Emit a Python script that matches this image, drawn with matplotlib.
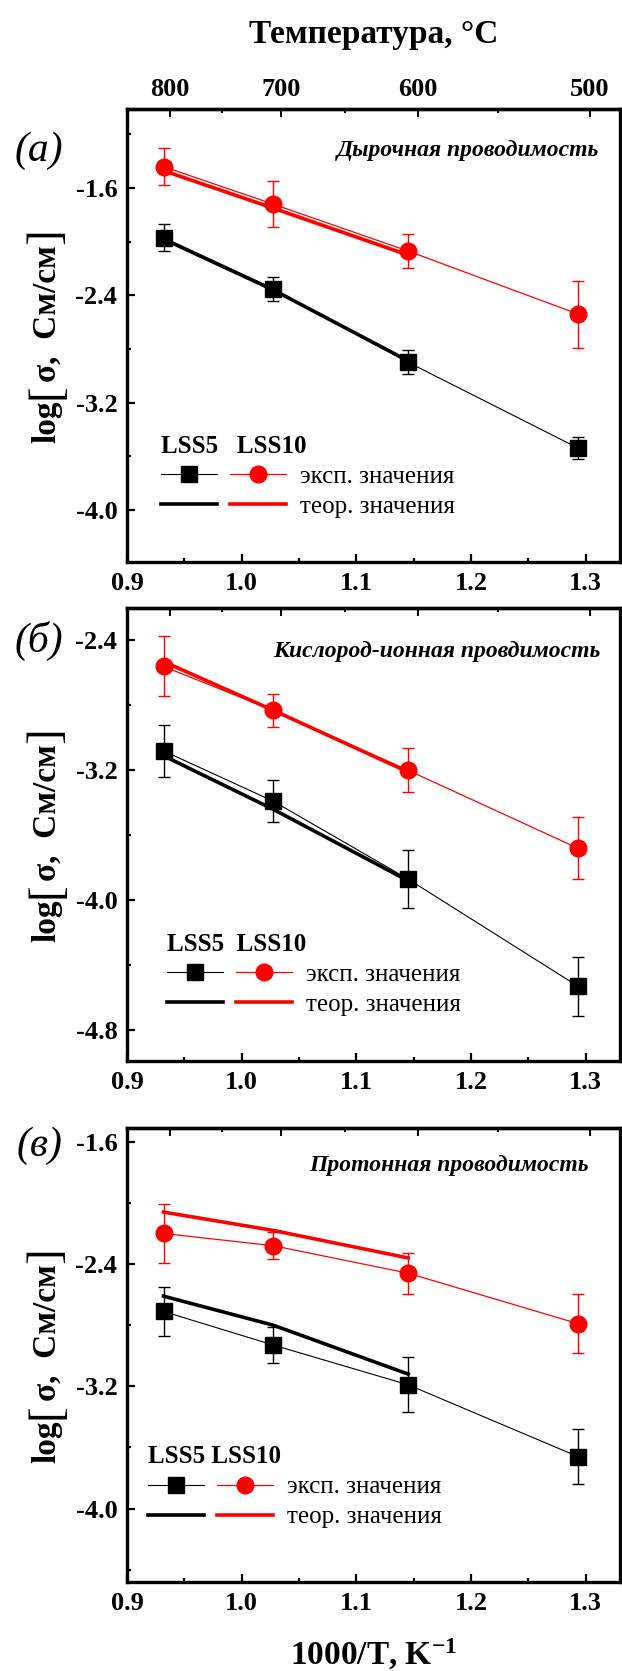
# arrhenius_panels.py
# Three stacked Arrhenius plots (hole / oxygen-ion / proton conductivity) for LSS5 and LSS10.

import numpy as np
import matplotlib
matplotlib.use('Agg')
import matplotlib.pyplot as plt
from matplotlib.legend_handler import HandlerTuple
from matplotlib.ticker import MultipleLocator, FormatStrFormatter

# --- Data ---
TEMPS_C = np.array([800, 700, 600, 500])
INV_T = 1000.0 / (TEMPS_C + 273.15)          # 1000/T, K^-1

# (a) hole conductivity
HOLE_LSS5_EXP = [-1.97, -2.35, -2.90, -3.54]
HOLE_LSS5_ERR = [0.10, 0.09, 0.09, 0.08]
HOLE_LSS10_EXP = [-1.44, -1.72, -2.07, -2.54]
HOLE_LSS10_ERR = [0.14, 0.17, 0.13, 0.25]
HOLE_LSS5_THEO = [-1.98, -2.36, -2.89]
HOLE_LSS10_THEO = [-1.47, -1.75, -2.10]

# (б) oxygen-ion conductivity
OXY_LSS5_EXP = [-3.08, -3.39, -3.87, -4.53]
OXY_LSS5_ERR = [0.16, 0.13, 0.18, 0.18]
OXY_LSS10_EXP = [-2.56, -2.83, -3.20, -3.68]
OXY_LSS10_ERR = [0.185, 0.10, 0.135, 0.19]
OXY_LSS5_THEO = [-3.11, -3.44, -3.88]
OXY_LSS10_THEO = [-2.53, -2.83, -3.21]

# (в) proton conductivity
PROT_LSS5_EXP = [-2.71, -2.93, -3.19, -3.66]
PROT_LSS5_ERR = [0.16, 0.12, 0.18, 0.18]
PROT_LSS10_EXP = [-2.20, -2.28, -2.46, -2.79]
PROT_LSS10_ERR = [0.19, 0.09, 0.135, 0.195]
PROT_LSS5_THEO = [-2.61, -2.80, -3.12]
PROT_LSS10_THEO = [-2.06, -2.18, -2.36]

TEMP_TICKS = [800, 700, 600, 500]
TEMP_MINOR = [750, 650, 550]
# the original top scale sits slightly off the true 273.15 conversion
TOP_AXIS_OFFSET = 267.0

SERIF = ['Liberation Serif', 'DejaVu Serif']
plt.rcParams['font.family'] = SERIF
plt.rcParams['axes.unicode_minus'] = False
plt.rcParams['mathtext.fontset'] = 'custom'
plt.rcParams['mathtext.rm'] = 'Liberation Serif'
plt.rcParams['mathtext.bf'] = 'Liberation Serif:bold'
plt.rcParams['mathtext.it'] = 'Liberation Serif:italic'

RED = '#ff0000'
TICK_SIZE = 19
YLABEL_X = -0.162   # centre line of the rotated y label, axes fraction


def inv_to_c(x):
    x = np.asarray(x, dtype=float)
    with np.errstate(divide='ignore'):
        return np.where(x > 0, 1000.0 / np.where(x > 0, x, 1) - TOP_AXIS_OFFSET, np.inf)


def c_to_inv(t):
    t = np.asarray(t, dtype=float)
    return 1000.0 / (t + TOP_AXIS_OFFSET)


def style_axes(ax, ylim, show_top_labels):
    ax.set_xlim(0.9, 1.33)
    ax.set_ylim(*ylim)
    for sp in ax.spines.values():
        sp.set_linewidth(2.4)
    ax.xaxis.set_major_locator(MultipleLocator(0.1))
    ax.xaxis.set_minor_locator(MultipleLocator(0.05))
    ax.yaxis.set_major_locator(MultipleLocator(0.8))
    ax.yaxis.set_minor_locator(MultipleLocator(0.4))
    ax.xaxis.set_major_formatter(FormatStrFormatter('%.1f'))
    ax.yaxis.set_major_formatter(FormatStrFormatter('%.1f'))
    ax.tick_params(which='both', direction='in', top=False, right=False)
    ax.tick_params(which='major', length=6, width=1.6, labelsize=TICK_SIZE, pad=7)
    ax.tick_params(which='minor', length=3, width=1.6)
    for lab in ax.get_xticklabels() + ax.get_yticklabels():
        lab.set_fontweight('bold')

    top = ax.secondary_xaxis('top', functions=(inv_to_c, c_to_inv))
    top.set_xticks(TEMP_TICKS)
    top.set_xticks(TEMP_MINOR, minor=True)
    top.tick_params(which='both', direction='in', width=1.4)
    top.tick_params(which='major', length=6, labelsize=TICK_SIZE, pad=6)
    top.tick_params(which='minor', length=3)
    top.spines['top'].set_linewidth(2.4)
    if show_top_labels:
        top.set_xticklabels([str(t) for t in TEMP_TICKS], fontweight='bold')
        top.set_xlabel('Температура, °C', fontsize=24, fontweight='bold', labelpad=25)
    else:
        top.set_xticklabels([])


def add_ylabel(ax):
    """log[σ, См/см] with tall thin brackets, built from chained text pieces."""
    pieces = [('[', 'normal', 34), ('σ,  См/см', 'bold', 24), (']', 'normal', 34)]
    first = ax.text(YLABEL_X, 0.5, 'log', transform=ax.transAxes, rotation=90,
                    ha='center', va='bottom', fontsize=24, fontweight='bold')
    texts = [first]
    prev = first
    for s, weight, size in pieces:
        t = ax.annotate(s, xy=(0.5, 1.0), xycoords=prev, xytext=(0, 1),
                        textcoords='offset points', rotation=90, ha='center',
                        va='bottom', fontsize=size, fontweight=weight,
                        annotation_clip=False)
        texts.append(t)
        prev = t
    return texts


def center_ylabel(fig, ax, texts):
    renderer = fig.canvas.get_renderer()
    boxes = [t.get_window_extent(renderer) for t in texts]
    mid = (min(b.y0 for b in boxes) + max(b.y1 for b in boxes)) / 2
    target = ax.transAxes.transform((0, 0.5))[1]
    texts[0].set_y(0.5 + (target - mid) / ax.bbox.height)


def draw_panel(ax, lss5, lss5_err, lss10, lss10_err, lss5_theo, lss10_theo,
               ylim, title, title_xy, legend_xy, legend_title, show_top_labels=False):
    style_axes(ax, ylim, show_top_labels)

    x_theo = INV_T[:len(lss5_theo)]
    th5, = ax.plot(x_theo, lss5_theo, color='black', lw=2.6, zorder=3)
    th10, = ax.plot(x_theo, lss10_theo, color=RED, lw=2.6, zorder=3)

    ax.errorbar(INV_T, lss5, yerr=lss5_err, fmt='none', ecolor='black',
                elinewidth=1.0, capsize=4, capthick=1.0, zorder=4)
    ax.errorbar(INV_T, lss10, yerr=lss10_err, fmt='none', ecolor=RED,
                elinewidth=1.0, capsize=4, capthick=1.0, zorder=4)
    ex5, = ax.plot(INV_T, lss5, color='black', lw=0.8, marker='s', ms=11, zorder=5)
    ex10, = ax.plot(INV_T, lss10, color=RED, lw=0.9, marker='o', ms=12, zorder=5)

    ax.text(title_xy[0], title_xy[1], title, transform=ax.transAxes, ha='right',
            va='center', fontsize=17, fontweight='bold', style='italic')

    ax.legend([(ex5, ex10), (th5, th10)], ['эксп. значения', 'теор. значения'],
              handler_map={tuple: HandlerTuple(ndivide=None, pad=0.5)},
              loc='lower left', bbox_to_anchor=legend_xy, frameon=False,
              borderpad=0, borderaxespad=0, fontsize=18, handlelength=5.0,
              handletextpad=0.56, labelspacing=0.3, title=legend_title,
              title_fontproperties={'weight': 'bold', 'size': 18},
              alignment='left', numpoints=1)
    return add_ylabel(ax)


def main():
    fig = plt.figure(figsize=(6.22, 16.71), dpi=100)
    left, width = 127 / 622, 493 / 622
    ax_a = fig.add_axes([left, 1 - 562 / 1671, width, 453 / 1671])
    ax_b = fig.add_axes([left, 1 - 1061 / 1671, width, 453 / 1671])
    ax_c = fig.add_axes([left, 1 - 1582 / 1671, width, 454 / 1671])

    labels = {}
    labels[ax_a] = draw_panel(ax_a, HOLE_LSS5_EXP, HOLE_LSS5_ERR, HOLE_LSS10_EXP, HOLE_LSS10_ERR,
                              HOLE_LSS5_THEO, HOLE_LSS10_THEO, (-4.39, -1.01),
                              'Дырочная проводимость', (0.957, 0.909), (0.069, 0.098),
                              'LSS5   LSS10', show_top_labels=True)
    labels[ax_b] = draw_panel(ax_b, OXY_LSS5_EXP, OXY_LSS5_ERR, OXY_LSS10_EXP, OXY_LSS10_ERR,
                              OXY_LSS5_THEO, OXY_LSS10_THEO, (-4.99, -2.2),
                              'Кислород-ионная провдимость', (0.961, 0.903), (0.081, 0.10),
                              'LSS5  LSS10')
    labels[ax_c] = draw_panel(ax_c, PROT_LSS5_EXP, PROT_LSS5_ERR, PROT_LSS10_EXP, PROT_LSS10_ERR,
                              PROT_LSS5_THEO, PROT_LSS10_THEO, (-4.48, -1.51),
                              'Протонная проводимость', (0.937, 0.918), (0.043, 0.118),
                              'LSS5 LSS10')

    ax_c.set_xlabel(r'1000/T, K$^{\mathbf{-1}}$', fontsize=24, fontweight='bold', labelpad=16)

    for label, yc in (('(а)', 151), ('(б)', 641), ('(в)', 1146)):
        fig.text(39 / 622, 1 - yc / 1671, label, ha='center', va='center',
                 fontsize=30, style='italic')

    fig.canvas.draw()
    for ax, texts in labels.items():
        center_ylabel(fig, ax, texts)

    fig.savefig('out.png', dpi=100)
    plt.close(fig)


if __name__ == "__main__":
    main()
